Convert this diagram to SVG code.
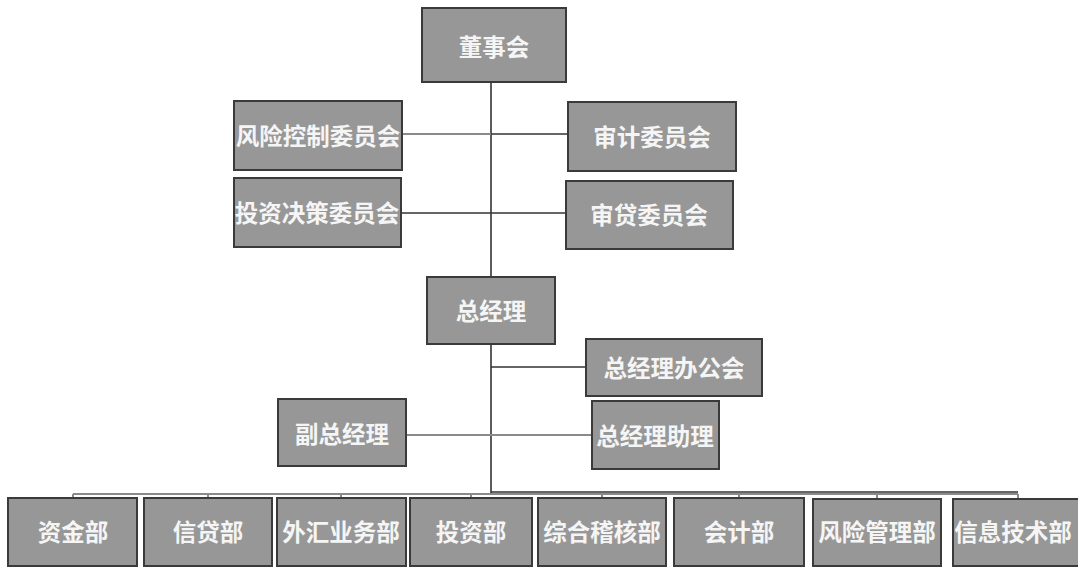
<svg xmlns="http://www.w3.org/2000/svg" width="1078" height="569" viewBox="0 0 1078 569">
<style>
.box{fill:#979797;stroke:#3a3a3a;stroke-width:2}
.t{font-family:"Noto Sans CJK SC","Noto Sans CJK JP",sans-serif;font-weight:bold;font-size:23.5px;fill:#f5f5f5;text-anchor:middle;dominant-baseline:central}
.dk{stroke:#333;stroke-width:1.6;fill:none}
.lt{stroke:#8a8a8a;stroke-width:2;fill:none}
</style>
<rect width="1078" height="569" fill="#ffffff"/>
<g id="connectors">
<line class="dk" x1="491" y1="82" x2="491" y2="278"/>
<line class="lt" x1="402" y1="134" x2="491" y2="134"/>
<line class="dk" x1="491" y1="134" x2="568" y2="134"/>
<line class="dk" x1="401" y1="213" x2="566" y2="213"/>
<line class="dk" x1="491" y1="344" x2="491" y2="493"/>
<line class="dk" x1="491" y1="367" x2="586" y2="367"/>
<line class="lt" x1="406" y1="435" x2="592" y2="435"/>
<line class="lt" x1="73" y1="494" x2="1018" y2="494"/>
<line class="dk" x1="491" y1="492" x2="1018" y2="492"/>
<g class="lt">
<line x1="73" y1="494" x2="73" y2="498"/>
<line x1="208" y1="494" x2="208" y2="498"/>
<line x1="341" y1="494" x2="341" y2="498"/>
<line x1="471" y1="494" x2="471" y2="498"/>
<line x1="602" y1="494" x2="602" y2="498"/>
<line x1="739" y1="494" x2="739" y2="498"/>
<line x1="877" y1="494" x2="877" y2="499"/>
<line x1="1018" y1="494" x2="1018" y2="499"/>
</g>
</g>
<g id="dongshihui"><rect class="box" x="422" y="8" width="144" height="74"/><text class="t" x="494" y="46">董事会</text></g>
<g id="fengxiankongzhi"><rect class="box" x="234" y="101" width="168" height="69"/><text class="t" x="318" y="135">风险控制委员会</text></g>
<g id="shenji"><rect class="box" x="568" y="102" width="168" height="69"/><text class="t" x="652" y="136">审计委员会</text></g>
<g id="touzijuece"><rect class="box" x="234" y="178" width="167" height="69"/><text class="t" x="317" y="212">投资决策委员会</text></g>
<g id="shendai"><rect class="box" x="566" y="181" width="167" height="68"/><text class="t" x="649" y="214">审贷委员会</text></g>
<g id="zongjingli"><rect class="box" x="427" y="277" width="128" height="67"/><text class="t" x="491" y="310">总经理</text></g>
<g id="zongjinglibangonghui"><rect class="box" x="586" y="339" width="176" height="57"/><text class="t" x="674" y="367">总经理办公会</text></g>
<g id="fuzongjingli"><rect class="box" x="278" y="399" width="128" height="67"/><text class="t" x="342" y="433">副总经理</text></g>
<g id="zongjinglizhuli"><rect class="box" x="592" y="401" width="127" height="68"/><text class="t" x="655" y="435">总经理助理</text></g>
<g id="zijinbu"><rect class="box" x="8" y="498" width="129" height="68"/><text class="t" x="73" y="531">资金部</text></g>
<g id="xindaibu"><rect class="box" x="144" y="498" width="128" height="68"/><text class="t" x="208" y="531">信贷部</text></g>
<g id="waihuiyewubu"><rect class="box" x="277" y="498" width="129" height="68"/><text class="t" x="341" y="531">外汇业务部</text></g>
<g id="touzibu"><rect class="box" x="410" y="498" width="122" height="68"/><text class="t" x="471" y="531">投资部</text></g>
<g id="zonghejihebu"><rect class="box" x="538" y="498" width="128" height="68"/><text class="t" x="602" y="531">综合稽核部</text></g>
<g id="kuaijibu"><rect class="box" x="674" y="498" width="130" height="68"/><text class="t" x="739" y="531">会计部</text></g>
<g id="fengxianguanlibu"><rect class="box" x="813" y="499" width="128" height="67"/><text class="t" x="877" y="531">风险管理部</text></g>
<g id="xinxijishubu"><rect class="box" x="953" y="499" width="130" height="67"/><text class="t" x="1013" y="531">信息技术部</text></g>
</svg>
